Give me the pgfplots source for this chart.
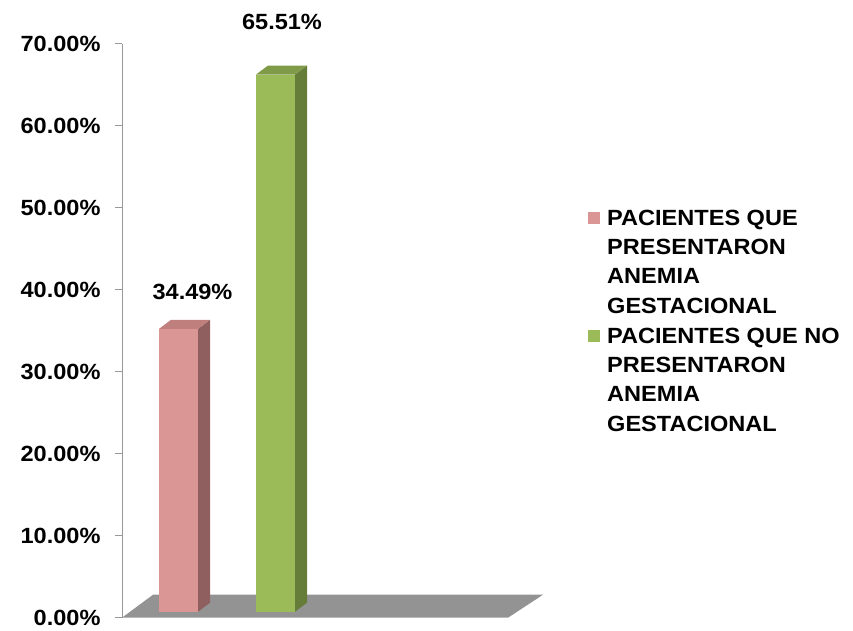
\documentclass[border=0pt]{standalone}
\usepackage{pgfplots}
\pgfplotsset{compat=1.18}
\usepackage{fontspec}
\setmainfont{Liberation Sans}[FakeStretch=1.07]
\definecolor{pinkF}{HTML}{D99694}
\definecolor{pinkS}{HTML}{8E5F5E}
\definecolor{pinkT}{HTML}{BE7F7D}
\definecolor{greenF}{HTML}{9BBB59}
\definecolor{greenS}{HTML}{667C39}
\definecolor{greenT}{HTML}{7F9B48}
\definecolor{floorc}{HTML}{939393}
\definecolor{axisc}{HTML}{989898}
\begin{document}
\begin{tikzpicture}[x=1pt,y=1pt]
\useasboundingbox (0,0) rectangle (853,630);
\begin{axis}[
  at={(122,15)}, anchor=south west,
  scale only axis, width=423pt, height=574pt,
  xmin=0, xmax=423, ymin=0, ymax=70,
  clip=false,
  axis x line=none, axis y line*=left,
  y axis line style={draw=axisc, line width=1pt},
  ytick={0,10,...,70}, tick align=outside, major tick length=7pt,
  ytick style={draw=axisc, line width=1pt},
  /pgf/number format/assume math mode=true,
  yticklabel={\pgfmathprintnumber[fixed,fixed zerofill,precision=2]{\tick}\%},
  yticklabel style={font=\bfseries\fontsize{22}{26}\selectfont, xshift=-11pt},
  legend image code/.code={\fill[#1] (0pt,-14pt) rectangle (12pt,-2pt);},
  legend style={at={(1.0946,0.7145)}, anchor=north west, draw=none, fill=none,
    font=\bfseries\fontsize{22}{29.3}\selectfont,
    cells={anchor=north west, align=left},
    nodes={inner sep=0pt}, column sep=7pt, row sep=13pt},
]
% floor
\addplot[fill=floorc, draw=none, forget plot] coordinates {(0,0) (386,0) (421,2.8) (31,2.8)} -- cycle;
% pink bar
\addplot[fill=pinkS, draw=none, forget plot, yshift=6pt] coordinates {(76,0) (88,1.1) (88,35.59) (76,34.49)} -- cycle;
\addplot[fill=pinkT, draw=none, forget plot, yshift=6pt] coordinates {(37,34.49) (76,34.49) (88,35.59) (49,35.59)} -- cycle;
\addplot[ybar, bar width=39, fill=pinkF, draw=none, forget plot, yshift=6pt,
  nodes near coords={\pgfmathprintnumber[fixed,fixed zerofill,precision=2]{\pgfplotspointmeta}\%},
  nodes near coords style={font=\bfseries\fontsize{22}{26}\selectfont, anchor=center, xshift=14pt, yshift=37pt}]
  coordinates {(56.5,34.49)};
% green bar
\addplot[fill=greenS, draw=none, forget plot, yshift=6pt] coordinates {(173,0) (185,1.1) (185,66.61) (173,65.51)} -- cycle;
\addplot[fill=greenT, draw=none, forget plot, yshift=6pt] coordinates {(134,65.51) (173,65.51) (185,66.61) (146,66.61)} -- cycle;
\addplot[ybar, bar width=39, fill=greenF, draw=none, forget plot, yshift=6pt,
  nodes near coords={\pgfmathprintnumber[fixed,fixed zerofill,precision=2]{\pgfplotspointmeta}\%},
  nodes near coords style={font=\bfseries\fontsize{22}{26}\selectfont, anchor=center, xshift=6.5pt, yshift=53pt}]
  coordinates {(153.5,65.51)};
\addlegendimage{fill=pinkF, draw=none}
\addlegendentry{PACIENTES QUE\\PRESENTARON\\ANEMIA\\GESTACIONAL}
\addlegendimage{fill=greenF, draw=none}
\addlegendentry{PACIENTES QUE NO\\PRESENTARON\\ANEMIA\\GESTACIONAL}
\end{axis}
\end{tikzpicture}
\end{document}
